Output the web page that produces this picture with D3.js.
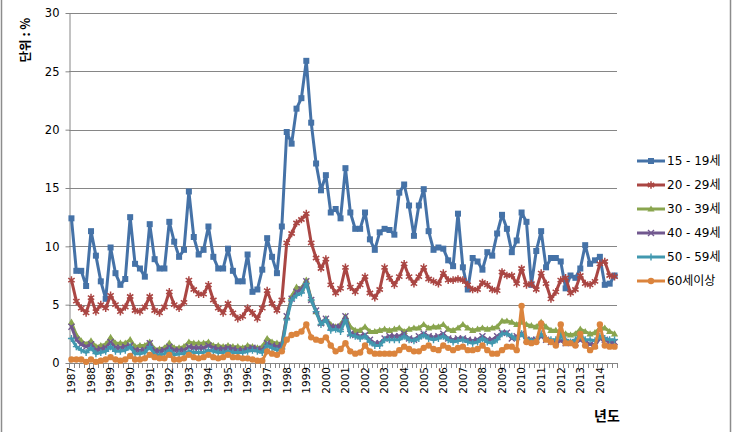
<!DOCTYPE html>
<html><head><meta charset="utf-8">
<script src="https://cdn.jsdelivr.net/npm/d3@7"></script>
<style>body{margin:0;background:#fff} svg{display:block}</style>
</head><body><svg id="c" width="735" height="432"></svg>
<script>
const years = [1987,1988,1989,1990,1991,1992,1993,1994,1995,1996,1997,1998,1999,2000,
               2001,2002,2003,2004,2005,2006,2007,2008,2009,2010,2011,2012,2013,2014];
const quarters = [1,2,3,4];
const yTicks = [0,5,10,15,20,25,30];
const seriesNames = ['15 - 19세','20 - 29세','30 - 39세','40 - 49세','50 - 59세','60세이상'];

const age15_19 = [12.4,7.9,7.9,6.6, 11.3,9.2,7.0,5.5, 9.9,7.7,6.7,7.2, 12.5,8.5,8.1,7.4,
  11.9,8.9,8.1,8.1, 12.1,10.4,9.1,9.7, 14.7,10.8,9.3,9.7, 11.7,9.1,8.1,8.1,
  9.8,7.9,7.0,7.0, 9.3,6.1,6.3,8.0, 10.7,9.1,7.7,11.7, 19.8,18.8,21.8,22.7,
  25.9,20.6,17.1,14.8, 16.1,12.9,13.2,12.4, 16.7,12.9,11.5,11.5, 12.9,10.6,9.7,11.2,
  11.5,11.4,11.0,14.6, 15.3,13.5,10.9,13.5, 14.9,11.3,9.7,9.9, 9.8,8.8,8.3,12.8,
  8.2,6.3,9.0,8.7, 8.0,9.5,9.2,11.1, 12.7,11.5,9.5,10.5, 12.9,12.1,6.7,9.6,
  11.3,8.2,9.0,9.0, 8.7,6.4,7.5,7.3, 8.1,10.1,8.5,8.8, 9.1,6.7,6.8,7.5];
const age20_29 = [7.1,5.3,4.7,4.3, 5.6,4.4,5.0,4.7, 5.8,5.0,4.4,4.8, 5.7,4.5,4.4,4.8,
  5.7,4.5,4.3,4.8, 6.1,5.0,4.7,5.2, 7.1,6.3,5.9,5.9, 6.7,5.4,4.7,4.3,
  5.1,4.3,3.8,4.0, 4.7,4.3,3.8,4.7, 6.2,5.1,4.5,5.4, 10.3,11.1,12.0,12.3,
  12.8,10.3,9.0,8.1, 8.9,6.7,6.0,6.4, 8.2,6.5,6.1,6.7, 7.4,6.0,5.6,6.3,
  8.2,7.3,6.7,7.4, 8.5,7.4,6.8,7.4, 8.2,7.2,7.0,6.8, 7.7,7.1,7.1,7.2,
  7.1,6.7,6.3,6.3, 6.9,6.7,6.3,6.2, 7.8,7.5,7.5,6.8, 8.1,6.7,6.8,6.3,
  7.7,6.8,5.5,6.1, 7.1,7.3,6.0,6.3, 7.5,6.8,6.7,7.0, 8.5,8.7,7.5,7.4];
const age30_39 = [3.5,2.4,1.9,1.6, 1.9,1.4,1.5,1.6, 2.2,1.7,1.7,1.7, 2.0,1.4,1.5,1.5,
  1.8,1.2,1.2,1.3, 1.7,1.3,1.3,1.4, 1.8,1.7,1.7,1.7, 1.8,1.5,1.5,1.4,
  1.5,1.4,1.4,1.3, 1.5,1.4,1.3,1.4, 2.1,1.8,1.7,1.7, 4.0,5.7,6.5,6.4,
  7.1,5.5,4.4,3.4, 3.8,3.3,3.1,3.3, 4.0,3.1,2.8,2.8, 3.1,2.7,2.7,2.8,
  2.9,2.8,2.9,3.0, 2.7,2.9,3.0,3.0, 3.3,3.0,3.1,3.1, 3.3,2.9,2.8,3.0,
  3.3,3.0,2.8,2.9, 3.0,2.9,3.0,3.1, 3.6,3.6,3.5,3.3, 3.5,3.3,3.2,3.1,
  3.5,3.1,2.8,2.8, 2.6,2.5,2.4,2.5, 2.9,2.7,2.5,2.6, 3.0,3.0,2.7,2.5];
const age40_49 = [3.1,2.0,1.6,1.4, 1.6,1.1,1.2,1.3, 1.8,1.3,1.3,1.4, 1.5,1.1,1.1,1.1,
  1.7,1.0,1.0,1.1, 1.4,1.1,1.1,1.1, 1.4,1.3,1.3,1.3, 1.5,1.3,1.2,1.2,
  1.3,1.2,1.1,1.1, 1.2,1.3,1.2,1.1, 1.7,1.5,1.4,1.5, 4.0,5.5,6.1,6.3,
  7.0,5.4,4.5,3.4, 3.8,3.1,3.1,3.1, 4.0,2.5,2.4,2.3, 2.4,2.0,1.7,1.7,
  2.1,2.3,2.3,2.3, 2.5,2.1,2.0,2.3, 2.5,2.3,2.2,2.3, 2.5,2.1,2.0,2.1,
  2.1,2.0,1.9,2.0, 2.3,2.0,2.0,2.3, 2.6,2.6,2.1,2.3, 2.5,2.0,2.0,2.0,
  2.3,2.0,1.8,1.8, 1.9,1.7,1.8,1.7, 2.0,1.7,1.6,1.5, 2.1,2.0,1.8,1.8];
const age50_59 = [2.1,1.4,1.1,0.9, 1.3,0.8,0.9,1.0, 1.4,1.0,1.0,1.1, 1.4,0.8,0.8,0.9,
  1.4,0.7,0.7,0.8, 1.1,0.7,0.8,0.8, 1.0,0.9,0.9,0.9, 1.1,1.0,0.9,0.9,
  1.0,0.9,0.9,0.9, 1.0,1.1,1.0,0.9, 1.5,1.3,1.1,1.2, 3.7,5.4,5.8,6.0,
  6.8,5.4,4.4,3.3, 3.7,2.8,2.9,2.7, 3.7,2.4,2.3,2.1, 2.3,1.8,1.5,1.5,
  2.0,2.0,2.0,2.0, 2.3,2.0,1.9,2.1, 2.4,2.1,2.0,2.1, 2.3,2.0,1.8,1.9,
  2.0,1.8,1.7,1.8, 2.1,1.8,1.7,2.0, 2.5,2.5,2.3,2.0, 2.5,2.1,1.9,2.0,
  2.5,2.1,2.0,2.0, 2.3,2.0,1.8,2.0, 2.3,2.0,2.0,1.9, 2.3,2.1,2.0,2.0];
const age60plus = [0.3,0.3,0.3,0.1, 0.3,0.1,0.2,0.3, 0.5,0.3,0.2,0.3, 0.6,0.3,0.3,0.4,
  0.7,0.5,0.4,0.4, 0.7,0.3,0.3,0.4, 0.7,0.5,0.4,0.5, 0.7,0.5,0.4,0.5,
  0.7,0.5,0.5,0.4, 0.4,0.3,0.2,0.2, 1.0,0.8,0.7,1.0, 2.0,2.4,2.5,2.7,
  3.3,2.2,2.0,1.9, 2.2,1.5,1.0,1.2, 1.7,1.0,0.8,0.9, 1.5,1.0,0.8,0.8,
  0.8,0.8,0.8,1.1, 1.4,1.2,1.0,1.0, 1.3,1.5,1.2,1.1, 1.5,1.3,1.1,1.3,
  1.4,1.1,1.1,1.2, 1.5,1.1,0.8,0.8, 1.1,1.4,1.4,1.1, 4.9,1.8,1.7,1.8,
  3.4,2.0,1.8,1.5, 3.3,1.7,1.7,1.5, 2.5,1.5,1.1,1.4, 3.3,1.5,1.4,1.4];

const seriesValues = [age15_19, age20_29, age30_39, age40_49, age50_59, age60plus];
const colors = ['#4572A7','#AA4643','#89A54E','#71588F','#4198AF','#DB843D'];
const markerTypes = ['square','star','triangle','x','plus','circle'];

const categories = years.flatMap(y => quarters.map(q => y + 'Q' + q));

const svg = d3.select('#c');
const L = 69, R = 617, T = 13, B = 363;
const x = d3.scaleBand().domain(categories).range([L, R]).padding(0);
const y = d3.scaleLinear().domain([0, 30]).range([B, T]);
const cx = c => x(c) + x.bandwidth() / 2;
const gray = '#868686';

// outer frame (left and right edges visible)
svg.append('rect').attr('x', 1.5).attr('y', -10).attr('width', 729).attr('height', 460)
  .attr('fill', 'none').attr('stroke', '#8c8c8c').attr('stroke-width', 1.5);

// gridlines
svg.append('g').selectAll('line').data(yTicks.filter(d => d > 0)).join('line')
  .attr('x1', L).attr('x2', R).attr('y1', d => Math.round(y(d)) + 0.5).attr('y2', d => Math.round(y(d)) + 0.5)
  .attr('stroke', gray).attr('stroke-width', 1);

// y axis
const yAxis = svg.append('g').attr('transform', `translate(${L + 0.5},0)`)
  .call(d3.axisLeft(y).tickValues(yTicks).tickSize(4).tickSizeOuter(0).tickFormat(d3.format('d')));
yAxis.select('.domain').attr('stroke', gray);
yAxis.selectAll('.tick line').attr('stroke', gray);
yAxis.selectAll('.tick text').attr('font-family', 'DejaVu Sans, Verdana, sans-serif')
  .attr('font-size', 11.5).attr('fill', '#000').attr('x', -10);

// x axis
const xg = svg.append('g');
xg.append('line').attr('x1', L).attr('x2', R).attr('y1', B + 0.5).attr('y2', B + 0.5).attr('stroke', gray);
const bounds = categories.map(c => x(c)).concat([R]);
xg.selectAll('line.tk').data(bounds).join('line').attr('class', 'tk')
  .attr('x1', d => Math.round(d) + 0.5).attr('x2', d => Math.round(d) + 0.5)
  .attr('y1', B).attr('y2', B + 5).attr('stroke', gray);
xg.selectAll('text').data(years).join('text')
  .attr('transform', d => `translate(${cx(d + 'Q1')},${B + 4}) rotate(-90)`)
  .attr('text-anchor', 'end').attr('dy', '0.36em')
  .attr('font-family', 'DejaVu Sans, Verdana, sans-serif').attr('font-size', 10.5).attr('fill', '#000')
  .text(d => d);

// axis titles
svg.append('text').attr('transform', 'translate(30,40) rotate(-90)').attr('text-anchor', 'middle')
  .attr('font-family', 'Noto Sans CJK KR, sans-serif').attr('font-weight', 'bold').attr('font-size', 12.5)
  .text('단위 : %');
svg.append('text').attr('x', 607).attr('y', 421).attr('text-anchor', 'middle')
  .attr('font-family', 'Noto Sans CJK KR, sans-serif').attr('font-weight', 'bold').attr('font-size', 14)
  .text('년도');

function drawMarker(g, type, color, px, py) {
  if (type === 'square') {
    g.append('rect').attr('x', px - 3).attr('y', py - 3).attr('width', 6).attr('height', 6).attr('fill', color);
  } else if (type === 'circle') {
    g.append('circle').attr('cx', px).attr('cy', py).attr('r', 3.2).attr('fill', color);
  } else if (type === 'triangle') {
    g.append('path').attr('d', `M${px},${py - 3.6}L${px + 3.6},${py + 2.6}L${px - 3.6},${py + 2.6}Z`).attr('fill', color);
  } else if (type === 'x') {
    g.append('path').attr('d', `M${px - 3},${py - 3}L${px + 3},${py + 3}M${px - 3},${py + 3}L${px + 3},${py - 3}`)
      .attr('stroke', color).attr('stroke-width', 1.4).attr('fill', 'none');
  } else if (type === 'plus') {
    g.append('path').attr('d', `M${px - 3.5},${py}L${px + 3.5},${py}M${px},${py - 3.5}L${px},${py + 3.5}`)
      .attr('stroke', color).attr('stroke-width', 1.4).attr('fill', 'none');
  } else if (type === 'star') {
    g.append('path').attr('d', `M${px},${py - 3.8}L${px},${py + 3.8}M${px - 3.2},${py - 2}L${px + 3.2},${py + 2}M${px - 3.2},${py + 2}L${px + 3.2},${py - 2}`)
      .attr('stroke', color).attr('stroke-width', 1.5).attr('fill', 'none');
  }
}

const line = d3.line().x((d, i) => cx(categories[i])).y(d => y(d));
seriesValues.forEach((vals, s) => {
  const g = svg.append('g');
  g.append('path').datum(vals).attr('d', line).attr('fill', 'none')
    .attr('stroke', colors[s]).attr('stroke-width', 3).attr('stroke-linejoin', 'round').attr('stroke-linecap', 'round');
  vals.forEach((v, i) => drawMarker(g, markerTypes[s], colors[s], cx(categories[i]), y(v)));
});

// legend
const lg = svg.append('g');
seriesNames.forEach((name, s) => {
  const ly = 161 + s * 24;
  lg.append('line').attr('x1', 637).attr('x2', 665).attr('y1', ly).attr('y2', ly)
    .attr('stroke', colors[s]).attr('stroke-width', 3);
  drawMarker(lg, markerTypes[s], colors[s], 651, ly);
  lg.append('text').attr('x', 667).attr('y', ly).attr('dy', '0.36em')
    .attr('font-family', 'DejaVu Sans, Noto Sans CJK KR, sans-serif').attr('font-size', 12).attr('fill', '#000')
    .text(name);
});
</script></body></html>
